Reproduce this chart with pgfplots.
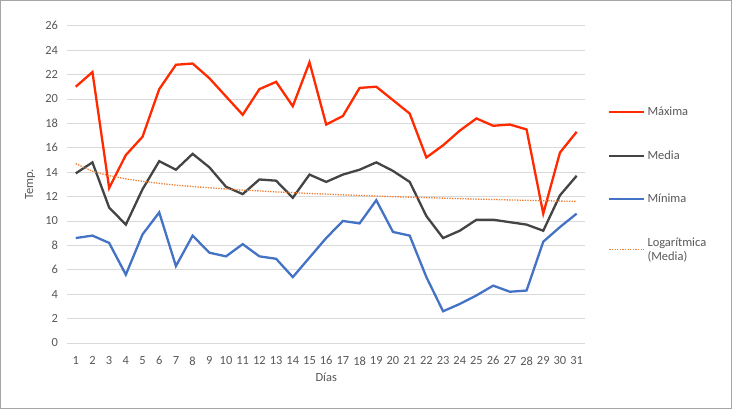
\documentclass[border=0pt]{standalone}
\usepackage{fontspec}
\setmainfont{Carlito}
\usepackage{pgfplots}
\pgfplotsset{compat=1.18}
\definecolor{maxc}{HTML}{FF2A00}
\definecolor{medc}{HTML}{444444}
\definecolor{minc}{HTML}{4472C4}
\definecolor{trendc}{HTML}{ED7D31}
\definecolor{gridc}{HTML}{D9D9D9}
\definecolor{textc}{HTML}{595959}
\definecolor{framec}{HTML}{A6A6A6}
\pgfplotstableread{
d max med min trend
1 21.0 13.9 8.6 14.70
2 22.2 14.8 8.8 14.07
3 12.7 11.1 8.2 13.71
4 15.4 9.7 5.6 13.45
5 16.9 12.6 8.9 13.25
6 20.8 14.9 10.7 13.08
7 22.8 14.2 6.3 12.94
8 22.9 15.5 8.8 12.82
9 21.7 14.4 7.4 12.72
10 20.2 12.8 7.1 12.62
11 18.7 12.2 8.1 12.53
12 20.8 13.4 7.1 12.46
13 21.4 13.3 6.9 12.38
14 19.4 11.9 5.4 12.32
15 23.0 13.8 7.0 12.25
16 17.9 13.2 8.6 12.20
17 18.6 13.8 10.0 12.14
18 20.9 14.2 9.8 12.09
19 21.0 14.8 11.7 12.04
20 19.9 14.1 9.1 11.99
21 18.8 13.2 8.8 11.95
22 15.2 10.4 5.4 11.91
23 16.2 8.6 2.6 11.87
24 17.4 9.2 3.2 11.83
25 18.4 10.1 3.9 11.79
26 17.8 10.1 4.7 11.76
27 17.9 9.9 4.2 11.72
28 17.5 9.7 4.3 11.69
29 10.6 9.2 8.3 11.66
30 15.6 12.1 9.5 11.63
31 17.3 13.7 10.6 11.60
}\datatable
\begin{document}
\begin{tikzpicture}
\fill[white] (0,0) rectangle (732bp,409bp);
\draw[framec, line width=1bp] (0.5bp,0.5bp) rectangle (731.5bp,408.5bp);
\begin{axis}[
  at={(67.4bp,66bp)}, anchor=south west,
  scale only axis, width=517.6bp, height=317.3bp,
  xmin=0.5, xmax=31.5, ymin=0, ymax=26,
  xtick={1,...,31}, ytick={0,2,...,26},
  ymajorgrids, grid style={color=gridc, line width=0.8bp},
  axis line style={draw=none},
  major tick length=0pt,
  /pgf/number format/assume math mode=true,
  tick label style={font=\fontsize{12.5}{14}\selectfont, text=textc},
  yticklabel style={xshift=-6bp},
  xticklabel style={yshift=-10bp},
  xlabel={Días}, ylabel={Temp.},
  every axis x label/.style={at={(axis description cs:0.5,-0.109)}, anchor=center,
    font=\fontsize{12.5}{14}\selectfont, text=textc},
  every axis y label/.style={at={(axis description cs:-0.072,0.5)}, anchor=center, rotate=90,
    font=\fontsize{12.5}{14}\selectfont, text=textc},
  legend cell align=left,
  legend style={at={(1.0445,0.7505)}, anchor=north west, draw=none, fill=none,
    font=\fontsize{12.5}{14}\selectfont, text=textc, row sep=29.5bp, inner sep=0pt,
    cells={align=left}},
  legend image code/.code={\draw[#1] (0bp,0bp) -- (35bp,0bp);},
]
\addplot[maxc, line width=2.3bp] table[x=d, y=max] {\datatable};
\addlegendentry{Máxima}
\addplot[medc, line width=2.3bp] table[x=d, y=med] {\datatable};
\addlegendentry{Media}
\addplot[minc, line width=2.3bp] table[x=d, y=min] {\datatable};
\addlegendentry{Mínima}
\addplot[trendc, line width=1.3bp, dash pattern=on 1.3bp off 1.3bp] table[x=d, y=trend] {\datatable};
\addlegendentry{Logarítmica\\(Media)}
\end{axis}
\end{tikzpicture}
\end{document}
